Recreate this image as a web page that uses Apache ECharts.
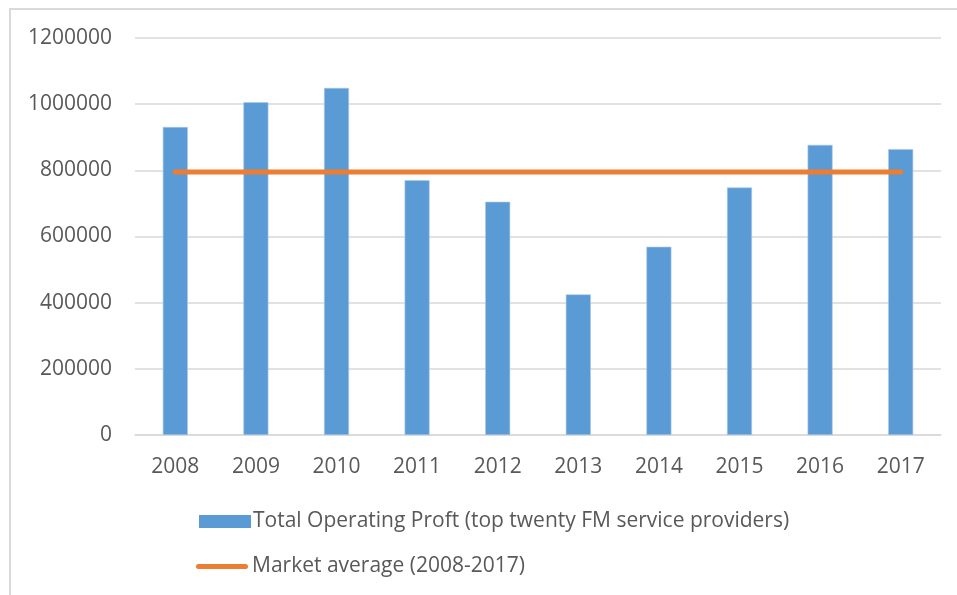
<!DOCTYPE html>
<html>
<head>
<meta charset="utf-8">
<script src="https://cdn.jsdelivr.net/npm/echarts@6/dist/echarts.min.js"></script>
<style>
html,body{margin:0;padding:0;background:#fff;}
#frame{position:absolute;left:9px;top:8px;width:960px;height:600px;border-left:2px solid #d9d9d9;border-top:2px solid #d9d9d9;box-sizing:border-box;}
#chart{position:absolute;left:0;top:0;width:957px;height:595px;}
</style>
</head>
<body>
<div id="frame"></div>
<div id="chart"></div>
<script>
const years = ['2008','2009','2010','2011','2012','2013','2014','2015','2016','2017'];
const operatingProfit = [931000, 1006000, 1049000, 770000, 705000, 425000, 569000, 748000, 877000, 864000];
const marketAverage = [795000, 795000, 795000, 795000, 795000, 795000, 795000, 795000, 795000, 795000];
const barName = 'Total Operating Proft (top twenty FM service providers)';
const lineName = 'Market average (2008-2017)';

const txt = '#595959';
const font = 'Open Sans';
const chart = echarts.init(document.getElementById('chart'), null, {renderer:'canvas'});
chart.setOption({
  backgroundColor: 'transparent',
  animation: false,
  textStyle: {fontFamily: font},
  grid: {left: 135, right: 16, top: 38, bottom: 160, containLabel: false},
  legend: [
    {
      data: [barName], left: 194, top: 506, orient: 'vertical',
      icon: 'rect', itemWidth: 52, itemHeight: 13, itemGap: 4,
      itemStyle: {borderWidth: 0},
      textStyle: {color: txt, fontSize: 21, fontFamily: font, padding: [0,0,0,-3]},
      selectedMode: false
    },
    {
      data: [{name: lineName, icon: 'path://M2.5,0 L49.5,0 A2.5,2.5 0 0 1 49.5,5 L2.5,5 A2.5,2.5 0 0 1 2.5,0 Z'}],
      left: 191, top: 551, orient: 'vertical',
      itemWidth: 56, itemHeight: 5,
      textStyle: {color: txt, fontSize: 21, fontFamily: font, padding: [0,0,0,-3]},
      selectedMode: false
    }
  ],
  xAxis: {
    type: 'category', data: years, boundaryGap: true,
    axisLine: {show: true, lineStyle: {color: '#d9d9d9', width: 1.5}},
    axisTick: {show: false},
    axisLabel: {color: txt, fontSize: 21, fontFamily: font, margin: 22}
  },
  yAxis: {
    type: 'value', min: 0, max: 1200000, interval: 200000,
    axisLine: {show: false}, axisTick: {show: false},
    splitLine: {lineStyle: {color: '#d9d9d9', width: 1.5}},
    axisLabel: {color: txt, fontSize: 21, fontFamily: font, margin: 23, formatter: v => String(v)}
  },
  series: [
    {
      name: barName, type: 'bar', data: operatingProfit, barWidth: '31%',
      itemStyle: {color: '#5b9bd5', borderColor: '#a9c8ea', borderWidth: 0.6}
    },
    {
      name: lineName, type: 'line', data: marketAverage, symbol: 'none',
      lineStyle: {color: '#ed7d31', width: 5, cap: 'round'},
      itemStyle: {color: '#ed7d31'}
    }
  ]
});
</script>
</body>
</html>
